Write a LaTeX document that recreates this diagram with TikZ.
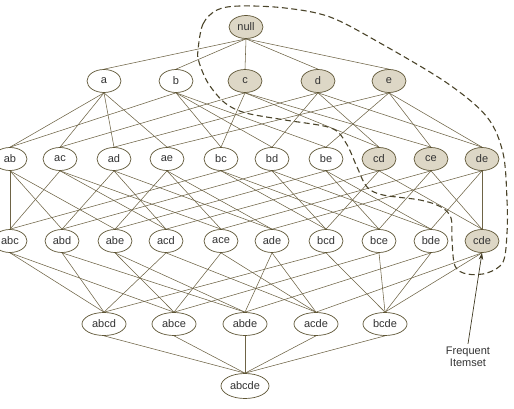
\documentclass[tikz,border=0pt]{standalone}
\usepackage{fontspec}
\setmainfont{Liberation Sans}
\usetikzlibrary{shapes.geometric,arrows.meta,backgrounds}
\definecolor{edgecol}{HTML}{6E6446}
\definecolor{bordcol}{HTML}{5E5535}
\definecolor{shade}{HTML}{DDD7C6}
\definecolor{txtcol}{HTML}{333333}
\begin{document}
\begin{tikzpicture}[x=1pt,y=-1pt,
  item/.style={ellipse,draw=bordcol,line width=0.7pt,fill=white,text=txtcol,
    inner sep=0pt,minimum width=34pt,minimum height=23pt,font=\fontsize{11}{13}\selectfont},
  item4/.style={item,minimum width=44pt},
  item5/.style={item,minimum width=48pt,minimum height=25pt},
  freq/.style={fill=shade},
  link/.style={draw=edgecol,line width=0.55pt},
  boundary/.style={draw=bordcol!80!black,line width=1.1pt,dash pattern=on 6pt off 3.5pt},
  pointer/.style={draw=bordcol!70!black,line width=0.7pt,-{Stealth[length=7pt,width=4.5pt]}},
  lbl/.style={text=txtcol,font=\fontsize{11}{13}\selectfont,align=center}]
\useasboundingbox (0,0) rectangle (514,409);
% level 0
\node[item,freq] (null) at (246,27) {null};
% level 1
\node[item] (a) at (104,81) {a};
\node[item] (b) at (176,81) {b};
\node[item,freq] (c) at (245,81) {c};
\node[item,freq] (d) at (318,81) {d};
\node[item,freq] (e) at (389,81) {e};
% level 2
\node[item] (ab) at (10,159) {ab};
\node[item] (ac) at (60,159) {ac};
\node[item] (ad) at (114,159) {ad};
\node[item] (ae) at (167,159) {ae};
\node[item] (bc) at (221,159) {bc};
\node[item] (bd) at (272,159) {bd};
\node[item] (be) at (326,159) {be};
\node[item,freq] (cd) at (379,159) {cd};
\node[item,freq] (ce) at (431,159) {ce};
\node[item,freq] (de) at (482,159) {de};
% level 3
\node[item] (abc) at (10,241) {abc};
\node[item] (abd) at (62,241) {abd};
\node[item] (abe) at (115,241) {abe};
\node[item] (acd) at (166,241) {acd};
\node[item] (ace) at (221,241) {ace};
\node[item] (ade) at (272,241) {ade};
\node[item] (bcd) at (326,241) {bcd};
\node[item] (bce) at (379,241) {bce};
\node[item] (bde) at (431,241) {bde};
\node[item,freq] (cde) at (482,241) {cde};
% level 4
\node[item4] (abcd) at (104,324) {abcd};
\node[item4] (abce) at (174,324) {abce};
\node[item4] (abde) at (245,324) {abde};
\node[item4] (acde) at (316,324) {acde};
\node[item4] (bcde) at (385,324) {bcde};
% level 5
\node[item5] (abcde) at (245,386) {abcde};
% edges
\begin{scope}[on background layer]
\foreach \u/\l in {null/a,null/b,null/c,null/d,null/e,
  a/ab,a/ac,a/ad,a/ae,b/ab,b/bc,b/bd,b/be,c/ac,c/bc,c/cd,c/ce,d/ad,d/bd,d/cd,d/de,e/ae,e/be,e/ce,e/de,
  ab/abc,ac/abc,bc/abc,ab/abd,ad/abd,bd/abd,ab/abe,ae/abe,be/abe,ac/acd,ad/acd,cd/acd,
  ac/ace,ae/ace,ce/ace,ad/ade,ae/ade,de/ade,bc/bcd,bd/bcd,cd/bcd,bc/bce,be/bce,ce/bce,
  bd/bde,be/bde,de/bde,cd/cde,ce/cde,de/cde,
  abc/abcd,abd/abcd,acd/abcd,bcd/abcd,abc/abce,abe/abce,ace/abce,bce/abce,
  abd/abde,abe/abde,ade/abde,bde/abde,acd/acde,ace/acde,ade/acde,cde/acde,
  bcd/bcde,bce/bcde,bde/bcde,cde/bcde,
  abcd/abcde,abce/abcde,abde/abcde,acde/abcde,bcde/abcde}
  \draw[link] (\u.south) -- (\l.north);
\end{scope}
% boundary of frequent itemsets
\draw[boundary] plot[smooth cycle,tension=0.55] coordinates {
  (198,50) (203,24) (217,10) (240,6) (285,8) (330,17) (380,43) (447,83)
  (487,117) (503,153) (507,200) (507,233) (503,262) (487,273) (467,274)
  (455,266) (452,240) (451,218) (441,207) (420,200) (383,195) (367,187)
  (357,167) (346,143) (331,128) (285,120) (246,113) (225,103) (208,83) (199,62)};
% label
\node[lbl] (fl) at (468,357) {Frequent\\[-1.5pt]Itemset};
\draw[pointer] (fl.north) -- (cde.south);
\end{tikzpicture}
\end{document}
